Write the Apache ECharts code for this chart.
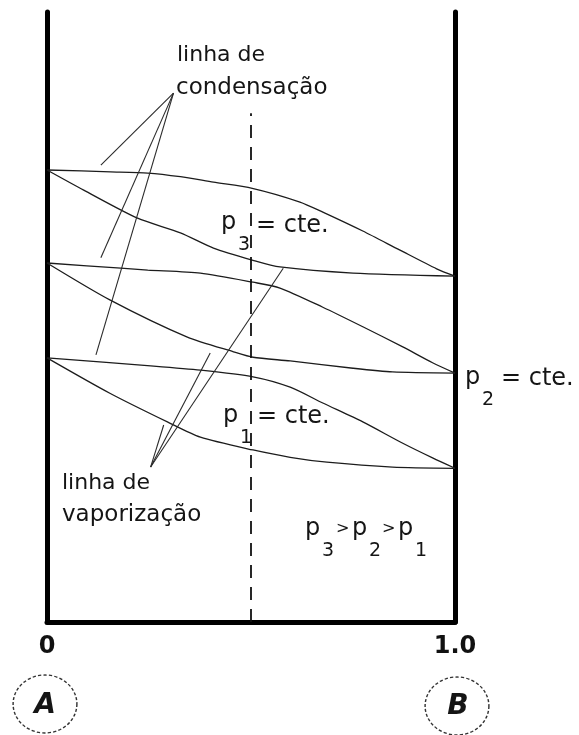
<!DOCTYPE html>
<html>
<head>
<meta charset="utf-8">
<script src="https://cdn.jsdelivr.net/npm/echarts@6/dist/echarts.min.js"></script>
<style>
html,body{margin:0;padding:0;background:#fff;}
#chart{width:579px;height:735px;}
</style>
</head>
<body>
<div id="chart"></div>
<script>
// T-x diagram of a binary mixture A-B at three constant pressures.
// x = mole fraction of B (0 = pure A, 1.0 = pure B), T in arbitrary units.

// p3 = cte.
const cond3X = [0, 0.156, 0.247, 0.327, 0.408, 0.503, 0.62, 0.676, 0.774, 0.864, 0.955, 1];
const cond3T = [74.1, 73.8, 73.6, 73.0, 72.1, 71.1, 68.85, 67.2, 64.1, 61.0, 57.9, 56.7];
const vap3X  = [0, 0.09, 0.222, 0.327, 0.408, 0.505, 0.571, 0.75, 1];
const vap3T  = [74.1, 70.8, 66.2, 63.8, 61.3, 59.3, 58.2, 57.2, 56.7];

// p2 = cte.
const cond2X = [0, 0.181, 0.247, 0.376, 0.505, 0.571, 0.676, 0.774, 0.872, 0.945, 1];
const cond2T = [58.85, 58.0, 57.7, 57.2, 55.7, 54.75, 51.6, 48.4, 45.1, 42.5, 40.8];
const vap2X  = [0, 0.154, 0.344, 0.457, 0.505, 0.596, 0.75, 0.847, 1];
const vap2T  = [58.85, 52.8, 46.7, 44.3, 43.4, 42.8, 41.6, 41.0, 40.8];

// p1 = cte.
const cond1X = [0, 0.254, 0.376, 0.505, 0.596, 0.676, 0.774, 0.872, 0.945, 1];
const cond1T = [43.3, 42.0, 41.3, 40.2, 38.5, 35.9, 32.8, 29.3, 26.9, 25.2];
const vap1X  = [0, 0.154, 0.295, 0.376, 0.505, 0.596, 0.686, 0.847, 1];
const vap1T  = [43.3, 37.5, 32.8, 30.3, 28.2, 27.0, 26.2, 25.4, 25.2];

// Leader lines from the two captions to the curves they name
const condCaptionPt = [0.31, 86.7];
const condTargets   = [[0.132, 74.9], [0.132, 59.7], [0.12, 43.8]];
const vapCaptionPt  = [0.254, 25.4];
const vapTargets    = [[0.579, 58.0], [0.40, 44.1], [0.286, 32.3]];

// Isopleth at fixed composition
const isoplethX = 0.5;
const isoplethTop = 83.4;

// Axis tick labels
const xTickLabels = {0: '0', 1: '1.0'};

const zip = (xs, ys) => xs.map((x, i) => [x, ys[i]]);

const curveStyle = { color: '#1c1c1c', width: 1.3 };
const leaderStyle = { color: '#2a2a2a', width: 1.1 };

function curve(name, xs, ys) {
  return {
    name, type: 'line', data: zip(xs, ys), smooth: 0.25,
    showSymbol: false, symbol: 'none', lineStyle: curveStyle,
    silent: true, animation: false
  };
}
function leaders(name, from, targets) {
  return targets.map((t, i) => ({
    name: name + i, type: 'line', data: [from, t], showSymbol: false, symbol: 'none',
    lineStyle: leaderStyle, silent: true, animation: false
  }));
}

const FONT = 'DejaVu Sans, sans-serif';
function label(x, y, text, size, opts) {
  opts = opts || {};
  return {
    type: 'text', x, y, z: 100,
    style: {
      text, fontSize: size, fontFamily: FONT,
      fontWeight: opts.weight || 'normal', fontStyle: opts.italic ? 'italic' : 'normal',
      fill: '#151515',
      align: opts.align || 'left', verticalAlign: 'middle',
      textAlign: opts.align || 'left', textVerticalAlign: 'middle'
    }
  };
}
// "p" with a dropped subscript
function pSub(x, y, sub) {
  return [label(x, y, 'p', 24), label(x + 17, y + 22, sub, 19)];
}
function ring(cx, cy) {
  return {
    type: 'circle', x: cx, y: cy, scaleX: 1.1, z: 100,
    shape: { cx: 0, cy: 0, r: 29 },
    style: { fill: 'none', stroke: '#333', lineWidth: 1.3, lineDash: [3, 2] }
  };
}

const graphics = [
  label(177, 55, 'linha de', 22),
  label(176, 88, 'condensação', 23),
  label(62, 483, 'linha de', 22),
  label(62, 515, 'vaporização', 23),

  ...pSub(221, 223, '3'), label(256, 226, '= cte.', 24),
  ...pSub(223, 416, '1'), label(257, 417, '= cte.', 24),
  ...pSub(465, 378, '2'), label(501, 379, '= cte.', 24),

  ...pSub(305, 529, '3'), label(336, 529, '>', 16),
  ...pSub(352, 529, '2'), label(382, 529, '>', 16),
  ...pSub(398, 529, '1'),

  ring(45, 704), label(45, 706, 'A', 28, { weight: 'bold', italic: true, align: 'center' }),
  ring(457, 706), label(458, 707, 'B', 28, { weight: 'bold', italic: true, align: 'center' })
];

const chart = echarts.init(document.getElementById('chart'), null, { renderer: 'canvas' });
chart.setOption({
  animation: false,
  backgroundColor: '#fff',
  grid: { left: 47, right: 124, top: 12, bottom: 113 },
  xAxis: {
    type: 'value', min: 0, max: 1, interval: 1,
    axisLine: { show: true, onZero: false, lineStyle: { color: '#000', width: 5 } },
    axisTick: { show: false },
    splitLine: { show: false },
    axisLabel: {
      show: true, margin: 13, color: '#111',
      fontFamily: FONT, fontWeight: 'bold', fontSize: 24,
      formatter: v => xTickLabels[v] !== undefined ? xTickLabels[v] : ''
    }
  },
  yAxis: [
    {
      type: 'value', min: 0, max: 100, position: 'left',
      axisLine: { show: true, onZero: false, lineStyle: { color: '#000', width: 5 } },
      axisTick: { show: false }, axisLabel: { show: false }, splitLine: { show: false }
    },
    {
      type: 'value', min: 0, max: 100, position: 'right',
      axisLine: { show: true, onZero: false, lineStyle: { color: '#000', width: 5 } },
      axisTick: { show: false }, axisLabel: { show: false }, splitLine: { show: false }
    }
  ],
  series: [
    curve('cond3', cond3X, cond3T),
    curve('vap3', vap3X, vap3T),
    curve('cond2', cond2X, cond2T),
    curve('vap2', vap2X, vap2T),
    curve('cond1', cond1X, cond1T),
    curve('vap1', vap1X, vap1T),
    ...leaders('condLeader', condCaptionPt, condTargets),
    ...leaders('vapLeader', vapCaptionPt, vapTargets),
    {
      name: 'isopleth', type: 'line',
      data: [[isoplethX, 0], [isoplethX, isoplethTop]],
      showSymbol: false, symbol: 'none', silent: true,
      lineStyle: { color: '#111', width: 1.8, type: [13, 9] }
    }
  ],
  graphic: graphics
});
</script>
</body>
</html>
